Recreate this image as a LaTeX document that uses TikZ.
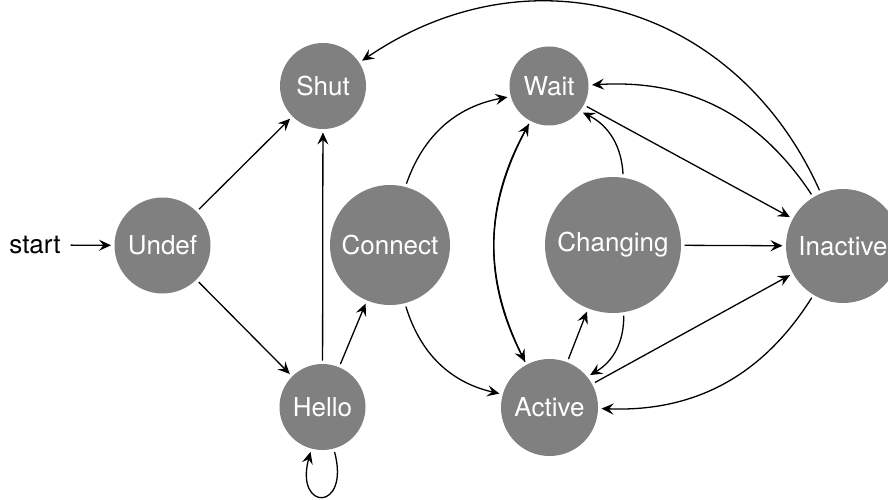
\documentclass[tikz,border=0pt]{standalone}
\usepackage{fontspec}
\setmainfont{TeX Gyre Heros}
\usetikzlibrary{arrows.meta}
\begin{document}
\begin{tikzpicture}[x=1pt,y=-1pt,
  st/.style={circle, fill=black!50, text=white, inner sep=0pt, outer sep=3.5pt,
    font=\fontsize{26}{30}\selectfont},
  tr/.style={draw=black, line width=1.3pt,
    -{Stealth[length=12pt,width=11pt,inset=4.5pt]}}]
\useasboundingbox (0,0) rectangle (888,500);

% states
\node[st, minimum size=96pt]  (undef)    at (162.5,245.5) {Undef};
\node[st, minimum size=86pt]  (shut)     at (323,86)      {Shut};
\node[st, minimum size=86pt]  (hello)    at (322.5,407)   {Hello};
\node[st, minimum size=120pt] (connect)  at (390,245)     {Connect};
\node[st, minimum size=79pt]  (wait)     at (549,86)      {Wait};
\node[st, minimum size=97pt]  (active)   at (549.5,407.5) {Active};
\node[st, minimum size=136pt] (changing) at (613,245)     {Changing};
\node[st, minimum size=114pt] (inactive) at (843,246)     {Inactive};

% initial marker
\node[font=\fontsize{26}{30}\selectfont, inner sep=0pt, outer sep=0pt] (start) at (35,245) {start};

% transitions
\draw[tr, shorten <=10pt] (start) -- (undef);
\draw[tr] (undef) -- (shut);
\draw[tr] (undef) -- (hello);
\draw[tr] (hello) -- (shut);
\draw[tr] (hello) -- (connect);
\draw[tr] (hello) to[out=-75, in=-105, distance=62pt] (hello);
\draw[tr] (connect) to[bend left=30] (wait);
\draw[tr] (connect) to[bend right=30] (active);
\draw[tr] (wait) to[bend right=28] (active);
\draw[tr] (active) to[bend left=28] (wait);
\draw[tr] (wait) -- (inactive);
\draw[tr] (inactive) to[bend right=30] (wait);
\draw[tr] (inactive) to[bend right=50, looseness=1.1] (shut);
\draw[tr] (changing) to[bend right=30] (wait);
\draw[tr] (changing) -- (inactive);
\draw[tr] (changing) to[bend left=30] (active);
\draw[tr] (active) -- (changing);
\draw[tr] (active) -- (inactive);
\draw[tr] (inactive) to[bend left=30] (active);
\end{tikzpicture}
\end{document}
